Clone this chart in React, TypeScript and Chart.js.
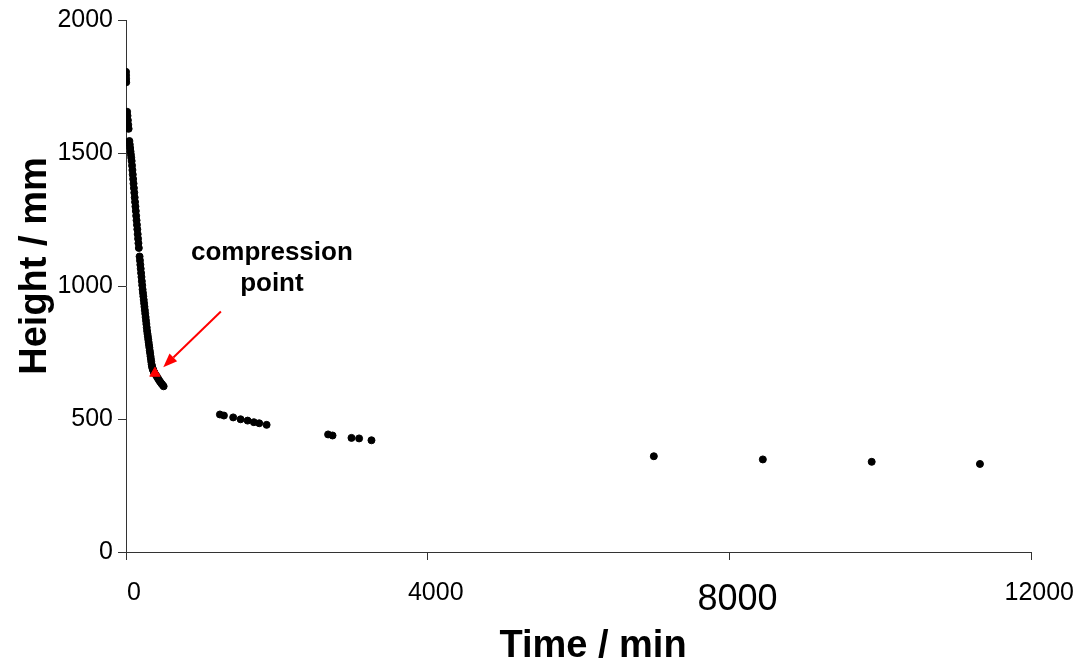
import React, { useEffect, useRef } from "react";
import { Chart, registerables } from "chart.js";

Chart.register(...registerables);

const FONT = "'Liberation Sans', Arial, Helvetica, sans-serif";
const AXIS_COLOR = "#333333";

// Early readings (minutes, mm)
const startTimes = [0, 1, 2, 3, 15, 20, 25, 30, 35];
const startHeights = [1805, 1792, 1779, 1766, 1655, 1640, 1623, 1606, 1591];

// Free settling region
const settlingTimes = [
  45, 50, 55, 60, 65, 70, 75, 80, 85, 90, 95, 100, 105, 110, 115, 120, 125, 130,
  135, 140, 145, 150, 155, 160, 165, 170, 180, 185, 190, 195, 200, 205, 210, 215,
  220, 225, 230, 235, 240, 245, 250, 255, 260, 265, 270, 275, 280, 285, 290, 295,
  300, 305, 310, 315, 320, 325, 330, 335, 340,
];
const settlingHeights = [
  1545, 1532, 1519, 1506, 1494, 1482, 1470, 1453, 1436, 1419, 1402, 1385, 1368,
  1351, 1333, 1316, 1299, 1282, 1264, 1247, 1230, 1213, 1195, 1178, 1161, 1143,
  1111, 1096, 1080, 1065, 1049, 1034, 1018, 1003, 987, 974, 961, 948, 935, 922,
  909, 896, 883, 870, 857, 844, 831, 820, 810, 799, 789, 778, 768, 757, 747, 736,
  726, 715, 705,
];

// Around the knee
const kneeTimes = [345, 350, 355, 360, 365, 370, 375, 395, 410, 425, 440, 455, 470, 485, 499];
const kneeHeights = [698, 692, 688, 684, 680, 677, 675, 666, 659, 652, 645, 639, 633, 628, 623];

// Later readings
const laterTimes = [
  1245, 1298, 1421, 1519, 1612, 1695, 1766, 1864, 2679, 2738, 2989, 3090, 3254,
  6997, 8442, 9885, 11320,
];
const laterHeights = [
  517, 513, 506, 499, 494, 488, 484, 478, 442, 438, 429, 427, 420, 360, 348, 339, 331,
];

// Compression point
const compressionTime = [384];
const compressionHeight = [672];

// Axes
const xTicks = [0, 4000, 8000, 12000];
const yTicks = [0, 500, 1000, 1500, 2000];
const xTitle = "Time / min";
const yTitle = "Height / mm";

// Annotation (data coordinates)
const annotationLines = ["compression", "point"];
const annotationText = { time: 1934, height: 1099 };
const arrowFrom = { time: 1258, height: 904 };
const arrowTo = { time: 494, height: 695 };

const toPoints = (ts: number[], hs: number[]) => ts.map((t, i) => ({ x: t, y: hs[i] }));

const overlayPlugin = {
  id: "overlay",
  afterDraw(chart: any) {
    const { ctx, scales } = chart;
    const xs = scales.x;
    const ys = scales.y;
    ctx.save();

    // axis titles
    ctx.fillStyle = "#000";
    ctx.font = `bold 38px ${FONT}`;
    ctx.textAlign = "center";
    ctx.textBaseline = "alphabetic";
    ctx.fillText(xTitle, 593, 657);
    ctx.save();
    ctx.translate(46, 266);
    ctx.rotate(-Math.PI / 2);
    ctx.fillText(yTitle, 0, 0);
    ctx.restore();

    // annotation text
    const tx = xs.getPixelForValue(annotationText.time);
    const ty = ys.getPixelForValue(annotationText.height);
    ctx.font = `bold 26px ${FONT}`;
    annotationLines.forEach((line, i) => ctx.fillText(line, tx, ty + i * 31));

    // arrow
    const x1 = xs.getPixelForValue(arrowFrom.time);
    const y1 = ys.getPixelForValue(arrowFrom.height);
    const x2 = xs.getPixelForValue(arrowTo.time);
    const y2 = ys.getPixelForValue(arrowTo.height);
    const ang = Math.atan2(y2 - y1, x2 - x1);
    const headLen = 14;
    const headW = 5.5;
    const bx = x2 - headLen * Math.cos(ang);
    const by = y2 - headLen * Math.sin(ang);
    ctx.strokeStyle = "#ff0000";
    ctx.fillStyle = "#ff0000";
    ctx.lineWidth = 2;
    ctx.beginPath();
    ctx.moveTo(x1, y1);
    ctx.lineTo(bx, by);
    ctx.stroke();
    ctx.beginPath();
    ctx.moveTo(x2, y2);
    ctx.lineTo(bx + headW * Math.sin(ang), by - headW * Math.cos(ang));
    ctx.lineTo(bx - headW * Math.sin(ang), by + headW * Math.cos(ang));
    ctx.closePath();
    ctx.fill();

    ctx.restore();
  },
};

export default function App() {
  const canvasRef = useRef<HTMLCanvasElement | null>(null);

  useEffect(() => {
    const canvas = canvasRef.current;
    if (!canvas) return;
    const blackPoints = [
      ...toPoints(startTimes, startHeights),
      ...toPoints(settlingTimes, settlingHeights),
      ...toPoints(kneeTimes, kneeHeights),
      ...toPoints(laterTimes, laterHeights),
    ];
    const chart = new Chart(canvas, {
      type: "scatter",
      data: {
        datasets: [
          {
            label: "compression point",
            data: toPoints(compressionTime, compressionHeight),
            pointStyle: "triangle",
            pointRadius: 6,
            pointBackgroundColor: "#ff0000",
            pointBorderColor: "#ff0000",
            pointBorderWidth: 1,
            order: 0,
          },
          {
            label: "height",
            data: blackPoints,
            pointStyle: "circle",
            pointRadius: 3.5,
            pointBackgroundColor: "#000000",
            pointBorderColor: "#000000",
            pointBorderWidth: 1,
            order: 1,
          },
        ],
      },
      options: {
        responsive: false,
        animation: false,
        devicePixelRatio: 1,
        layout: { padding: { top: 19, right: 52, left: 0, bottom: 0 } },
        plugins: { legend: { display: false }, tooltip: { enabled: false } },
        scales: {
          x: {
            type: "linear",
            min: 0,
            max: 12000,
            afterFit: (s: any) => {
              s.height = 111;
            },
            afterBuildTicks: (s: any) => {
              s.ticks = xTicks.map((v) => ({ value: v }));
            },
            border: { display: true, color: AXIS_COLOR, width: 1 },
            grid: { drawOnChartArea: false, color: AXIS_COLOR, tickLength: 8, tickWidth: 1 },
            ticks: {
              color: "#000",
              padding: 18,
              labelOffset: 8,
              maxRotation: 0,
              font: (ctx: any) => ({
                family: FONT,
                size: ctx.tick && ctx.tick.value === 8000 ? 36 : 25,
              }),
              callback: (v: any) => String(v),
            },
            title: { display: false },
          },
          y: {
            type: "linear",
            min: 0,
            max: 2000,
            afterFit: (s: any) => {
              s.width = 126;
            },
            afterBuildTicks: (s: any) => {
              s.ticks = yTicks.map((v) => ({ value: v }));
            },
            border: { display: true, color: AXIS_COLOR, width: 1 },
            grid: { drawOnChartArea: false, color: AXIS_COLOR, tickLength: 8, tickWidth: 1 },
            ticks: {
              color: "#000",
              padding: 5,
              font: { family: FONT, size: 25 },
              callback: (v: any) => String(v),
            },
            title: { display: false },
          },
        },
      },
      plugins: [overlayPlugin],
    });
    return () => chart.destroy();
  }, []);

  return (
    <div style={{ position: "absolute", left: 0, top: 0, width: 1084, height: 663, background: "#fff" }}>
      <canvas ref={canvasRef} width={1084} height={663} style={{ display: "block" }} />
    </div>
  );
}
